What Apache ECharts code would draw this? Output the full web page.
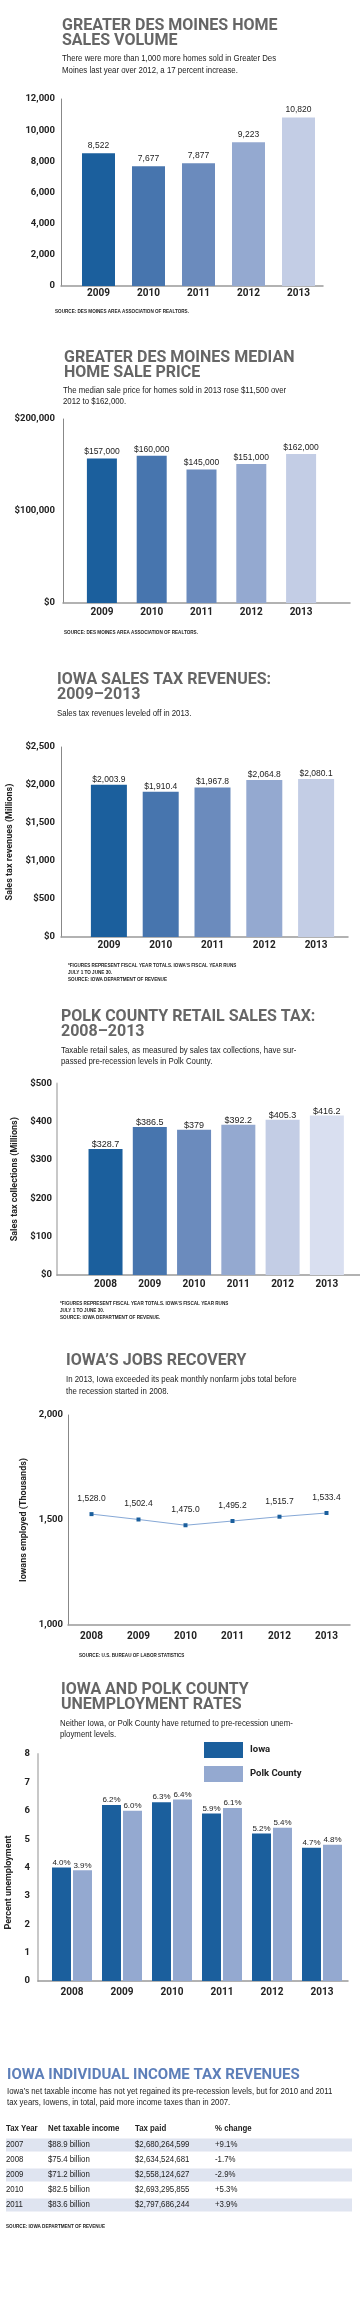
<!DOCTYPE html>
<html><head><meta charset="utf-8">
<script src="https://cdn.jsdelivr.net/npm/echarts@6/dist/echarts.min.js"></script>
<style>html,body{margin:0;padding:0;background:#fff;} #c{width:360px;height:2300px;}</style>
</head><body><div id="c"></div>
<script>
// ---------- DATA ----------
const homeYears = ['2009','2010','2011','2012','2013'];
const homeSales = [8522, 7677, 7877, 9223, 10820];
const priceYears = ['2009','2010','2011','2012','2013'];
const medianPrice = [157000, 160000, 145000, 151000, 162000];
const taxYears = ['2009','2010','2011','2012','2013'];
const salesTax = [2003.9, 1910.4, 1967.8, 2064.8, 2080.1];
const polkYears = ['2008','2009','2010','2011','2012','2013'];
const polkTax = [328.7, 386.5, 379, 392.2, 405.3, 416.2];
const jobsYears = ['2008','2009','2010','2011','2012','2013'];
const jobs = [1528.0, 1502.4, 1475.0, 1495.2, 1515.7, 1533.4];
const unempYears = ['2008','2009','2010','2011','2012','2013'];
const iowaRate = [4.0, 6.2, 6.3, 5.9, 5.2, 4.7];
const polkRate = [3.9, 6.0, 6.4, 6.1, 5.4, 4.8];
const tableHeaders = ['Tax Year', 'Net taxable income', 'Tax paid', '% change'];
const taxTableYears = ['2007','2008','2009','2010','2011'];
const netIncome = ['$88.9 billion','$75.4 billion','$71.2 billion','$82.5 billion','$83.6 billion'];
const taxPaid = ['$2,680,264,599','$2,634,524,681','$2,558,124,627','$2,693,295,855','$2,797,686,244'];
const pctChange = ['+9.1%','-1.7%','-2.9%','+5.3%','+3.9%'];

// ---------- STYLE ----------
const SANS = "'Liberation Sans',Arial,sans-serif";
const BOLD = "Roboto,'Liberation Sans',sans-serif";
const SX = 0.87; // horizontal squeeze to imitate the condensed face
const pal5 = ['#1b5f9d','#4775ae','#6b8bbd','#94a9d0','#c3cde5'];
const pal6 = ['#1b5f9d','#4775ae','#6b8bbd','#94a9d0','#c3cde5','#d9dff0'];
const TITLE_GRAY = '#666666';

const grids = [], xAxes = [], yAxes = [], series = [];
const loc = (v, d) => v.toLocaleString('en-US', d == null ? {} : {minimumFractionDigits: d, maximumFractionDigits: d});

function baseLine(axisL, axisR, top, height, color, width) {
  const g = grids.length;
  grids.push({left: axisL, top: top, width: axisR - axisL, height: height, containLabel: false, outerBoundsMode: 'none'});
  xAxes.push({gridIndex: g, type: 'value', min: 0, max: 1, position: 'bottom',
    axisLine: {show: true, onZero: false, lineStyle: {color: color, width: width}},
    axisLabel: {show: false}, axisTick: {show: false}, splitLine: {show: false}});
  yAxes.push({gridIndex: g, type: 'value', show: false, min: 0, max: 1});
}

function addBarPanel(p) {
  const g = grids.length;
  grids.push({left: p.bandL, top: p.top, width: p.bandW, height: p.height, containLabel: false, outerBoundsMode: 'none'});
  xAxes.push({gridIndex: g, type: 'category', data: p.cats,
    axisLine: {show: false}, axisTick: {show: false},
    axisLabel: {margin: p.xMargin, fontFamily: BOLD, fontWeight: 'bold', fontSize: 10, color: '#222'}});
  yAxes.push({gridIndex: g, type: 'value', min: 0, max: p.max, interval: p.interval, offset: p.bandL - p.axisL,
    axisLine: {show: true, lineStyle: {color: p.yLineColor || '#888', width: p.yLineWidth || 1}},
    axisTick: {show: false}, splitLine: {show: false},
    axisLabel: {formatter: p.yFmt, margin: p.yMargin, fontFamily: BOLD, fontWeight: 'bold', fontSize: 9.5, color: '#222'},
    name: p.name || '', nameLocation: 'middle', nameGap: p.nameGap || 0,
    nameTextStyle: {fontFamily: BOLD, fontWeight: 'bold', fontSize: 9, color: '#222'}});
  series.push({type: 'bar', xAxisIndex: g, yAxisIndex: g, data: p.values, barWidth: p.barWidth,
    itemStyle: {color: (prm) => p.palette[prm.dataIndex]},
    label: {show: true, position: 'top', distance: p.labelDist, formatter: (prm) => p.labelFmt(prm.value),
      fontFamily: SANS, fontSize: p.labelSize || 8.5, color: '#222'}});
  baseLine(p.axisL, p.axisR, p.top, p.height, '#999', 1.5);
}

// Panel 1: home sales volume
addBarPanel({cats: homeYears, values: homeSales, axisL: 61, axisR: 323, bandL: 73.5, bandW: 250,
  top: 99, height: 187, max: 12000, interval: 2000, yFmt: (v) => loc(v), barWidth: 33,
  labelFmt: (v) => loc(v), labelDist: 3, xMargin: 2, yMargin: 6, palette: pal5});
// Panel 2: median price
addBarPanel({cats: priceYears, values: medianPrice, axisL: 63, axisR: 350, bandL: 77, bandW: 249,
  top: 419, height: 184, max: 200000, interval: 100000, yFmt: (v) => '$' + loc(v), barWidth: 30,
  labelFmt: (v) => '$' + loc(v), labelDist: 2, xMargin: 4, yMargin: 8, palette: pal5});
// Panel 3: Iowa sales tax
addBarPanel({cats: taxYears, values: salesTax, axisL: 61, axisR: 348, bandL: 83, bandW: 259,
  top: 747, height: 190, max: 2500, interval: 500, yFmt: (v) => '$' + loc(v), barWidth: 36,
  labelFmt: (v) => '$' + loc(v, 1), labelDist: 1, labelSize: 8.5, xMargin: 3, yMargin: 6, palette: pal5,
  name: 'Sales tax revenues (Millions)', nameGap: 38});
// Panel 4: Polk County retail sales tax
addBarPanel({cats: polkYears, values: polkTax, axisL: 57, axisR: 360, bandL: 83.4, bandW: 265.6,
  top: 1083.5, height: 191.5, max: 500, interval: 100, yFmt: (v) => '$' + v, barWidth: 34,
  labelFmt: (v) => '$' + v, labelDist: 0, labelSize: 9, xMargin: 4, yMargin: 5, palette: pal6,
  name: 'Sales tax collections (Millions)', nameGap: 32, yLineColor: '#c8c8c8', yLineWidth: 2});

// Panel 5: jobs line
(function () {
  const g = grids.length;
  grids.push({left: 68, top: 1415, width: 282, height: 210, containLabel: false, outerBoundsMode: 'none'});
  xAxes.push({gridIndex: g, type: 'category', data: jobsYears, boundaryGap: true,
    axisLine: {show: true, lineStyle: {color: '#999', width: 1.5}}, axisTick: {show: false},
    axisLabel: {margin: 6, fontFamily: BOLD, fontWeight: 'bold', fontSize: 10, color: '#222'}});
  yAxes.push({gridIndex: g, type: 'value', min: 1000, max: 2000, interval: 500,
    axisLine: {show: true, lineStyle: {color: '#888', width: 1}}, axisTick: {show: false}, splitLine: {show: false},
    axisLabel: {formatter: (v) => loc(v), margin: 5, fontFamily: BOLD, fontWeight: 'bold', fontSize: 9.5, color: '#222'},
    name: 'Iowans employed (Thousands)', nameLocation: 'middle', nameGap: 37,
    nameTextStyle: {fontFamily: BOLD, fontWeight: 'bold', fontSize: 9, color: '#222'}});
  series.push({type: 'line', xAxisIndex: g, yAxisIndex: g, data: jobs, symbol: 'rect', symbolSize: 4,
    lineStyle: {color: '#86a8d6', width: 1}, itemStyle: {color: '#1b5f9d'},
    label: {show: true, position: 'top', distance: 9, formatter: (prm) => loc(prm.value, 1),
      fontFamily: SANS, fontSize: 8.5, color: '#222'}});
})();

// Panel 6: unemployment grouped bars
(function () {
  const g = grids.length;
  grids.push({left: 47, top: 1754, width: 300, height: 227, containLabel: false, outerBoundsMode: 'none'});
  xAxes.push({gridIndex: g, type: 'category', data: unempYears,
    axisLine: {show: false}, axisTick: {show: false},
    axisLabel: {margin: 6, fontFamily: BOLD, fontWeight: 'bold', fontSize: 10, color: '#222'}});
  yAxes.push({gridIndex: g, type: 'value', min: 0, max: 8, interval: 1, offset: 9,
    axisLine: {show: true, lineStyle: {color: '#c8c8c8', width: 2}}, axisTick: {show: false}, splitLine: {show: false},
    axisLabel: {margin: 8, fontFamily: BOLD, fontWeight: 'bold', fontSize: 9.5, color: '#222'},
    name: 'Percent unemployment', nameLocation: 'middle', nameGap: 22,
    nameTextStyle: {fontFamily: BOLD, fontWeight: 'bold', fontSize: 9, color: '#222', padding: [0, 30, 0, 0]}});
  const lbl = {show: true, position: 'top', distance: 1, formatter: (prm) => prm.value.toFixed(1) + '%',
    fontFamily: SANS, fontSize: 8, color: '#222'};
  series.push({name: 'Iowa', type: 'bar', xAxisIndex: g, yAxisIndex: g, data: iowaRate, barWidth: 19, barGap: '10.5%',
    itemStyle: {color: '#1b5f9d'}, label: lbl});
  series.push({name: 'Polk County', type: 'bar', xAxisIndex: g, yAxisIndex: g, data: polkRate, barWidth: 19, barGap: '10.5%',
    itemStyle: {color: '#94a9d0'}, label: lbl});
  baseLine(38, 348, 1754, 227, '#999', 1.5);
})();

// Table: income tax revenues
const colOffsets = [0, 42, 129, 209];
(function () {
  const g = grids.length;
  grids.push({left: 6, top: 2137.5, width: 346, height: 75, containLabel: false, outerBoundsMode: 'none'});
  xAxes.push({gridIndex: g, type: 'value', min: 0, max: 1, show: false});
  yAxes.push({gridIndex: g, type: 'category', data: taxTableYears, inverse: true, show: false});
  series.push({type: 'custom', xAxisIndex: g, yAxisIndex: g,
    data: taxTableYears.map((y, i) => [0, i]),
    renderItem: function (params, api) {
      const i = api.value(1);
      const c = api.coord([0, i]);
      const h = api.size([0, 1])[1];
      const cs = params.coordSys;
      const children = [];
      if (i % 2 === 0) {
        children.push({type: 'rect', shape: {x: cs.x, y: c[1] - h / 2 + 1, width: cs.width, height: h - 2},
          style: {fill: '#dfe4f0'}});
      }
      const cells = [taxTableYears[i], netIncome[i], taxPaid[i], pctChange[i]];
      cells.forEach((t, k) => children.push({type: 'text', x: cs.x + colOffsets[k], y: c[1], scaleX: SX,
        style: {x: 0, y: 0, text: t, verticalAlign: 'middle', align: 'left', fontFamily: SANS, fontSize: 9, fill: '#222'}}));
      return {type: 'group', children: children};
    }});
})();

// ---------- TEXT ----------
function ttl(text, left, top, color, size) {
  return {text: text, left: left, top: top, padding: 0,
    textStyle: {fontFamily: BOLD, fontWeight: 'bold', fontSize: size || 16, lineHeight: 15, color: color || TITLE_GRAY}};
}
const titles = [
  ttl('GREATER DES MOINES HOME\nSALES VOLUME', 62, 18.5),
  ttl('GREATER DES MOINES MEDIAN\nHOME SALE PRICE', 64, 350),
  ttl('IOWA SALES TAX REVENUES:\n2009–2013', 57, 672.5),
  ttl('POLK COUNTY RETAIL SALES TAX:\n2008–2013', 61, 1009.5),
  ttl('IOWA\u2019S JOBS RECOVERY', 66, 1353.5),
  ttl('IOWA AND POLK COUNTY\nUNEMPLOYMENT RATES', 61, 1682.5),
  ttl('IOWA INDIVIDUAL INCOME TAX REVENUES', 7, 2067.5, '#5d7fb9', 15)
];
function txt(text, x, y, size, lh, weight) {
  return {type: 'text', x: x, y: y, scaleX: SX, silent: true,
    style: {x: 0, y: 0, text: text, verticalAlign: 'top', fontFamily: SANS, fontSize: size, lineHeight: lh,
      fontWeight: weight || 'normal', fill: '#222'}};
}
const graphics = [
  txt('There were more than 1,000 more homes sold in Greater Des\nMoines last year over 2012, a 17 percent increase.', 62, 53, 9, 11.5),
  txt('SOURCE: DES MOINES AREA ASSOCIATION OF REALTORS.', 55, 309, 5.3, 6, 'bold'),
  txt('The median sale price for homes sold in 2013 rose $11,500 over\n2012 to $162,000.', 63, 385.5, 9, 11),
  txt('SOURCE: DES MOINES AREA ASSOCIATION OF REALTORS.', 64, 630, 5.3, 6, 'bold'),
  txt('Sales tax revenues leveled off in 2013.', 57, 708.5, 9, 11),
  txt('*FIGURES REPRESENT FISCAL YEAR TOTALS. IOWA\u2019S FISCAL YEAR RUNS\nJULY 1 TO JUNE 30.\nSOURCE: IOWA DEPARTMENT OF REVENUE', 68, 962.5, 5.3, 7, 'bold'),
  txt('Taxable retail sales, as measured by sales tax collections, have sur-\npassed pre-recession levels in Polk County.', 61, 1045.5, 9, 11),
  txt('*FIGURES REPRESENT FISCAL YEAR TOTALS. IOWA\u2019S FISCAL YEAR RUNS\nJULY 1 TO JUNE 30.\nSOURCE: IOWA DEPARTMENT OF REVENUE.', 60, 1300.5, 5.3, 7, 'bold'),
  txt('In 2013, Iowa exceeded its peak monthly nonfarm jobs total before\nthe recession started in 2008.', 66, 1373.5, 9, 12),
  txt('SOURCE: U.S. BUREAU OF LABOR STATISTICS', 79, 1653, 5.3, 6, 'bold'),
  txt('Neither Iowa, or Polk County have returned to pre-recession unem-\nployment levels.', 60, 1718.5, 9, 10.5),
  txt('Iowa\u2019s net taxable income has not yet regained its pre-recession levels, but for 2010 and 2011\ntax years, Iowens, in total, paid more income taxes than in 2007.', 7, 2086.5, 9, 10.5),
  txt('SOURCE: IOWA DEPARTMENT OF REVENUE', 6, 2224, 5.3, 6, 'bold')
];
tableHeaders.forEach((h, k) => graphics.push(txt(h, 6 + colOffsets[k], 2124, 9, 10, 'bold')));

const chart = echarts.init(document.getElementById('c'), null, {renderer: 'canvas'});
chart.setOption({
  animation: false,
  backgroundColor: '#fff',
  title: titles,
  legend: {data: ['Iowa', 'Polk County'], left: 204, top: 1742, orient: 'vertical', icon: 'rect',
    itemWidth: 39, itemHeight: 16, itemGap: 8, selectedMode: false, padding: 0,
    textStyle: {fontFamily: BOLD, fontWeight: 'bold', fontSize: 9.5, color: '#222', padding: [0, 0, 0, 2]}},
  grid: grids, xAxis: xAxes, yAxis: yAxes, series: series,
  graphic: graphics
});
</script></body></html>
